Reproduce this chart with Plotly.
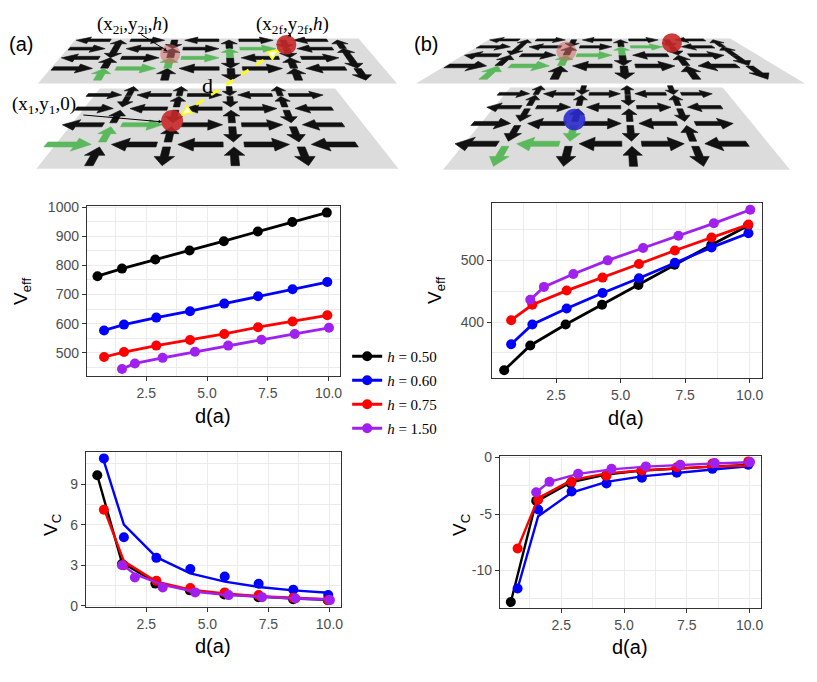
import plotly.graph_objects as go

W, H = 817, 682
OFF = 8                      # the page body margin shifts the figure by 8 px
FW, FH = W - 2 * OFF, H - 2 * OFF
TOP_H = 175                  # bottom of the sketch strip, in page pixels

# ---- data ----
LABELS = ["<i>h</i> = 0.50", "<i>h</i> = 0.60", "<i>h</i> = 0.75", "<i>h</i> = 1.50"]
COLORS = ["#000000", "#0000ff", "#ff0000", "#a020f0"]

d_050 = [0.49, 1.50, 2.87, 4.28, 5.69, 7.09, 8.51, 9.93]
d_060 = [0.76, 1.58, 2.91, 4.30, 5.71, 7.10, 8.52, 9.95]
d_075 = [0.76, 1.58, 2.91, 4.30, 5.71, 7.10, 8.52, 9.95]
d_150 = [1.50, 2.03, 3.17, 4.50, 5.87, 7.24, 8.61, 10.02]

veff_a_050 = [763, 789, 820, 851, 883, 916, 949, 981]
veff_a_060 = [577, 597, 621, 643, 669, 694, 718, 743]
veff_a_075 = [486, 503, 525, 544, 565, 588, 608, 629]
veff_a_150 = [445, 464, 483, 504, 525, 545, 565, 586]

veff_b_050 = [322, 362, 396, 428, 460, 493, 525, 556]
veff_b_060 = [364, 396, 422, 447, 471, 496, 521, 544]
veff_b_075 = [403, 428, 451, 472, 494, 516, 537, 558]
veff_b_150 = [436, 457, 478, 500, 520, 540, 560, 582]

# V_C: points and the curve drawn through them
vc_a_050 = [9.65, 3.10, 1.65, 1.15, 0.85, 0.65, 0.50, 0.42]
vc_a_060 = [10.9, 5.07, 3.55, 2.73, 2.17, 1.64, 1.20, 0.80]
vc_a_075 = [7.10, 3.00, 1.86, 1.33, 1.00, 0.80, 0.60, 0.43]
vc_a_150 = [3.00, 2.10, 1.37, 1.00, 0.80, 0.65, 0.55, 0.43]
vc_a_fit_050 = [9.65, 3.20, 1.75, 1.15, 0.85, 0.68, 0.55, 0.45]
vc_a_fit_060 = [10.7, 6.00, 3.60, 2.40, 1.80, 1.40, 1.15, 0.97]
vc_a_fit_075 = [7.20, 3.30, 1.80, 1.20, 0.92, 0.72, 0.60, 0.50]
vc_a_fit_150 = [3.05, 2.35, 1.55, 1.05, 0.80, 0.65, 0.55, 0.48]

vc_b_050 = [-12.8, -3.82, -2.30, -1.60, -1.20, -0.95, -0.75, -0.60]
vc_b_060 = [-11.6, -4.60, -3.00, -2.30, -1.78, -1.35, -1.00, -0.63]
vc_b_075 = [-8.05, -3.74, -2.15, -1.60, -1.15, -0.86, -0.52, -0.34]
vc_b_150 = [-3.07, -2.15, -1.44, -1.00, -0.78, -0.63, -0.49, -0.40]
vc_b_fit_050 = [-12.8, -3.90, -2.20, -1.50, -1.15, -0.95, -0.80, -0.65]
vc_b_fit_060 = [-11.6, -5.20, -3.10, -2.15, -1.67, -1.35, -1.06, -0.78]
vc_b_fit_075 = [-8.05, -3.60, -2.00, -1.40, -1.15, -0.95, -0.80, -0.70]
vc_b_fit_150 = [-3.07, -2.15, -1.44, -1.05, -0.80, -0.65, -0.52, -0.42]

# ---- spin-ice sketch: arrow directions on each lattice ----
TOP_H_DIRS = ["LRLRL", "RLRRL", "LRRLR", "RRLRL"]
TOP_V_DIRS = ["UDUDU", "DUUDU", "UUDUD", "UUDUD"]
TOP_GREEN = [("v", 3, 0), ("h", 3, 1), ("v", 2, 1), ("h", 2, 2), ("v", 1, 2), ("h", 1, 3)]
BOT_A_H_DIRS = ["RLRLR", "RLLRL", "LRRRL", "RLLRL"]
BOT_A_V_DIRS = ["UUDU", "DUDU", "UDUD", "UUDD", "UDUD"]
BOT_A_GREEN = [("h", 3, 0), ("v", 3, 0), ("h", 2, 1)]
BOT_B_H_DIRS = ["RLRLR", "LRLRL", "RLRLR", "LLLRL"]
BOT_B_V_DIRS = ["UDUD", "UUDU", "DUUD", "DDDU", "DDUD"]
BOT_B_GREEN = [("v", 3, 1), ("h", 3, 1), ("v", 4, 0)]

TOP_GRID = dict(vert_u=[0.16, 0.35, 0.54, 0.73, 0.92], horiz_u=[0.065, 0.255, 0.445, 0.635, 0.825],
                h_v=[0.05, 0.27, 0.49, 0.716], v_v=[0.155, 0.375, 0.6, 0.83],
                hL=0.12, hhl=0.045, hts=0.035, hhh=0.09, vL=0.22, vhl=0.10, vhh=0.028)
BOT_GRID = dict(vert_u=[0.14, 0.345, 0.55, 0.755], horiz_u=[0.04, 0.2425, 0.4475, 0.6525, 0.86],
                h_v=[0.12, 0.34, 0.56, 0.78], v_v=[0.05, 0.23, 0.45, 0.67, 0.89],
                hL=0.14, hhl=0.05, hts=0.025, hhh=0.065, vL=0.17, vhl=0.08, vhh=0.03)

PLANE_A_TOP = dict(cx=218, yb=32, yf=78, wb=283, wf=360)
PLANE_A_BOT = dict(cx=218, yb=83, yf=165, wb=236, wf=363)
PLANE_B_TOP = dict(cx=612, yb=32, yf=78, wb=240, wf=390)
PLANE_B_BOT = dict(cx=618, yb=82, yf=166, wb=213, wf=348)


def proj(pl, u, v):
    """perspective map of plane coords (u across, v back->front) to page pixels"""
    r = pl["wb"] / pl["wf"]
    s = 1.0 / (1.0 + (r - 1.0) * v)
    t = (s - 1.0) / (1.0 / r - 1.0)
    w = pl["wb"] + (pl["wf"] - pl["wb"]) * t
    return pl["cx"] + (u - 0.5) * w, pl["yb"] + (pl["yf"] - pl["yb"]) * t


def arrow_outline(L, hl, ts, hh):
    return [(-L / 2, -ts), (L / 2 - hl, -ts), (L / 2 - hl, -hh), (L / 2, 0),
            (L / 2 - hl, hh), (L / 2 - hl, ts), (-L / 2, ts), (-L / 2, -ts)]


def lattice_traces(pl, grid, h_dirs, v_dirs, green):
    xs = {"k": [], "g": []}
    ys = {"k": [], "g": []}
    for r, row in enumerate(h_dirs):
        for k, c in enumerate(row):
            sgn = 1 if c == "R" else -1
            col = "g" if ("h", r, k) in green else "k"
            for a, b in arrow_outline(grid["hL"], grid["hhl"], grid["hts"], grid["hhh"]):
                px, py = proj(pl, grid["horiz_u"][k] + sgn * a, grid["h_v"][r] + b)
                xs[col].append(px)
                ys[col].append(py)
            xs[col].append(None)
            ys[col].append(None)
    for m, row in enumerate(v_dirs):
        for c_i, c in enumerate(row):
            sgn = 1 if c == "U" else -1
            col = "g" if ("v", m, c_i) in green else "k"
            for a, b in arrow_outline(grid["vL"], grid["vhl"], grid["vhh"] * 0.4, grid["vhh"]):
                px, py = proj(pl, grid["vert_u"][c_i] + b, grid["v_v"][m] - sgn * a)
                xs[col].append(px)
                ys[col].append(py)
            xs[col].append(None)
            ys[col].append(None)
    corners = [proj(pl, 0, 0), proj(pl, 1, 0), proj(pl, 1, 1), proj(pl, 0, 1), proj(pl, 0, 0)]
    out = [go.Scatter(x=[p[0] for p in corners], y=[p[1] for p in corners], fill="toself",
                      fillcolor="#dcdcdc", line=dict(width=0), mode="lines")]
    for col, colour in (("k", "#111111"), ("g", "#5cb85c")):
        out.append(go.Scatter(x=xs[col], y=ys[col], fill="toself", fillcolor=colour,
                              line=dict(width=0.6, color=colour), mode="lines"))
    for tr in out:
        tr.update(xaxis="x5", yaxis="y5", showlegend=False, hoverinfo="skip")
    return out


def vertex(pl, grid, col, row):
    return proj(pl, grid["vert_u"][col], grid["h_v"][row])


fig = go.Figure()

for pl, grid, hd, vd, gr in ((PLANE_A_TOP, TOP_GRID, TOP_H_DIRS, TOP_V_DIRS, TOP_GREEN),
                             (PLANE_A_BOT, BOT_GRID, BOT_A_H_DIRS, BOT_A_V_DIRS, BOT_A_GREEN),
                             (PLANE_B_TOP, TOP_GRID, TOP_H_DIRS, TOP_V_DIRS, TOP_GREEN),
                             (PLANE_B_BOT, BOT_GRID, BOT_B_H_DIRS, BOT_B_V_DIRS, BOT_B_GREEN)):
    for tr in lattice_traces(pl, grid, hd, vd, gr):
        fig.add_trace(tr)

# particle positions (sitting on lattice vertices)
a_x2i = vertex(PLANE_A_TOP, TOP_GRID, 1, 2)
a_x2f = vertex(PLANE_A_TOP, TOP_GRID, 3, 1)
a_x1 = vertex(PLANE_A_BOT, BOT_GRID, 1, 2)
b_x2i = vertex(PLANE_B_TOP, TOP_GRID, 1, 2)
b_x2f = vertex(PLANE_B_TOP, TOP_GRID, 3, 1)
b_x1 = vertex(PLANE_B_BOT, BOT_GRID, 1, 2)

shapes = []


def sphere(c, rad, fill, opacity):
    cx, cy = c[0], c[1] - 4
    shapes.append(dict(type="circle", xref="x5", yref="y5", x0=cx - rad, x1=cx + rad,
                       y0=cy - rad, y1=cy + rad, fillcolor=fill, opacity=opacity,
                       line=dict(width=0)))
    return cx, cy


sphere(a_x2i, 10, "#d46a6a", 0.55)
s_a2f = sphere(a_x2f, 10, "#c62828", 0.9)
s_a1 = sphere(a_x1, 11, "#c62828", 0.9)
sphere(b_x2i, 10, "#d46a6a", 0.55)
sphere(b_x2f, 10, "#c62828", 0.9)
sphere(b_x1, 11, "#2a2acc", 0.9)

# yellow dashed d arrow between the two particles
dx, dy = s_a2f[0] - s_a1[0], s_a2f[1] - s_a1[1]
dl = (dx * dx + dy * dy) ** 0.5
ux, uy = dx / dl, dy / dl
pA = (s_a1[0] + ux * 11, s_a1[1] + uy * 11)
pB = (s_a2f[0] - ux * 10, s_a2f[1] - uy * 10)
fig.add_trace(go.Scatter(x=[pA[0], pB[0]], y=[pA[1], pB[1]], mode="lines",
                         line=dict(color="#ffff00", width=2.5, dash="dash"),
                         xaxis="x5", yaxis="y5", showlegend=False, hoverinfo="skip"))
hx, hy = [], []
for tip, sg in ((pA, -1), (pB, 1)):
    bx, by = tip[0] - sg * ux * 10, tip[1] - sg * uy * 10
    hx += [tip[0], bx - uy * 4.5, bx + uy * 4.5, tip[0], None]
    hy += [tip[1], by + ux * 4.5, by - ux * 4.5, tip[1], None]
fig.add_trace(go.Scatter(x=hx, y=hy, mode="lines", fill="toself", fillcolor="#ffffff",
                         line=dict(color="#ffff00", width=1.5), xaxis="x5", yaxis="y5",
                         showlegend=False, hoverinfo="skip"))

# ---- data panels ----
xs_all = [d_050, d_060, d_075, d_150]
veff_a = [veff_a_050, veff_a_060, veff_a_075, veff_a_150]
veff_b = [veff_b_050, veff_b_060, veff_b_075, veff_b_150]
vc_a = [vc_a_050, vc_a_060, vc_a_075, vc_a_150]
vc_b = [vc_b_050, vc_b_060, vc_b_075, vc_b_150]
vc_a_fit = [vc_a_fit_050, vc_a_fit_060, vc_a_fit_075, vc_a_fit_150]
vc_b_fit = [vc_b_fit_050, vc_b_fit_060, vc_b_fit_075, vc_b_fit_150]

for i in range(4):
    fig.add_trace(go.Scatter(x=xs_all[i], y=veff_a[i], mode="lines+markers", name=LABELS[i],
                             line=dict(color=COLORS[i], width=2.8), marker=dict(size=10, color=COLORS[i]),
                             xaxis="x", yaxis="y", legendgroup=str(i)))
for i in range(4):
    fig.add_trace(go.Scatter(x=xs_all[i], y=veff_b[i], mode="lines+markers", showlegend=False,
                             line=dict(color=COLORS[i], width=2.8), marker=dict(size=10, color=COLORS[i]),
                             xaxis="x2", yaxis="y2"))
for i in range(4):
    for ax, pts, fit in (("3", vc_a, vc_a_fit), ("4", vc_b, vc_b_fit)):
        fig.add_trace(go.Scatter(x=xs_all[i], y=pts[i], mode="markers", showlegend=False,
                                 marker=dict(size=10, color=COLORS[i]), xaxis="x" + ax, yaxis="y" + ax))
        fig.add_trace(go.Scatter(x=xs_all[i], y=fit[i], mode="lines", showlegend=False,
                                 line=dict(color=COLORS[i], width=2.4), xaxis="x" + ax, yaxis="y" + ax))


def PX(x):
    return (x - OFF) / FW


def PY(y):
    return 1 - (y - OFF) / FH


def dom_x(a, b):
    return [PX(a), PX(b)]


def dom_y(top, bottom):
    return [PY(bottom), PY(top)]


TICKFONT = dict(family="Liberation Sans, Arial", size=14, color="#4d4d4d")


def axis(domain, rng, dtick, minor, anchor, **kw):
    d = dict(domain=domain, range=rng, dtick=dtick, tick0=0, anchor=anchor,
             showline=True, mirror=True, linecolor="#333333", linewidth=1,
             ticks="outside", ticklen=4, tickwidth=1, tickcolor="#333333",
             showgrid=True, gridcolor="#ebebeb", gridwidth=1.2, zeroline=False,
             minor=dict(dtick=minor, tick0=0, showgrid=True, gridcolor="#ebebeb", gridwidth=0.6),
             tickfont=TICKFONT, fixedrange=True)
    d.update(kw)
    return d


fig.update_layout(
    width=FW, height=FH, margin=dict(l=0, r=0, t=0, b=0),
    paper_bgcolor="white", plot_bgcolor="white",
    xaxis=axis(dom_x(87, 341), [0.05, 10.48], 2.5, 1.25, "y", tickformat=".1f"),
    yaxis=axis(dom_y(203, 377), [420, 1004], 100, 50, "x"),
    xaxis2=axis(dom_x(493, 764), [0.01, 10.48], 2.5, 1.25, "y2", tickformat=".1f"),
    yaxis2=axis(dom_y(200, 379), [309, 593], 100, 50, "x2"),
    xaxis3=axis(dom_x(86, 342), [0.02, 10.48], 2.5, 1.25, "y3", tickformat=".1f"),
    yaxis3=axis(dom_y(454, 613), [-0.1, 11.4], 3, 1.5, "x3"),
    xaxis4=axis(dom_x(501, 763), [0.05, 10.46], 2.5, 1.25, "y4", tickformat=".1f"),
    yaxis4=axis(dom_y(458, 614), [-13.35, 0.18], 5, 2.5, "x4", tickmode="array",
                tickvals=[-10, -5, 0], ticktext=["-10", "-5", "0"]),
    xaxis5=dict(domain=[0, 1], range=[OFF, OFF + FW], visible=False, fixedrange=True, anchor="y5"),
    yaxis5=dict(domain=dom_y(OFF, TOP_H), range=[TOP_H, OFF], visible=False, fixedrange=True, anchor="x5"),
    legend=dict(x=PX(348), y=PY(340), xanchor="left", yanchor="top", itemwidth=30,
                font=dict(family="Liberation Serif, Times New Roman", size=15, color="black"),
                bgcolor="rgba(0,0,0,0)", tracegroupgap=1.5),
    showlegend=True,
    shapes=shapes,
)

ann = []


def label(x, y, text, size, angle=0, family="Liberation Sans, Arial", color="black"):
    ann.append(dict(x=PX(x), y=PY(y), xref="paper", yref="paper", text=text, showarrow=False,
                    textangle=angle, xanchor="center", yanchor="middle",
                    font=dict(family=family, size=size, color=color)))


label(22, 290, "V<sub>eff</sub>", 19, -90)
label(437, 289, "V<sub>eff</sub>", 19, -90)
label(52, 528, "V<sub>C</sub>", 19, -90)
label(462, 528, "V<sub>C</sub>", 19, -90)
for cx, cy in ((214, 418), (628, 420), (214, 653), (632, 654)):
    label(cx, cy, "d(a)", 20)
label(21, 38, "(a)", 20)
label(427, 38, "(b)", 20)

SERIF = "Liberation Serif, Times New Roman"
label(133, 18, "(x<sub>2i</sub>,y<sub>2i</sub>,<i>h</i>)", 19, family=SERIF)
label(293, 18, "(x<sub>2f</sub>,y<sub>2f</sub>,<i>h</i>)", 19, family=SERIF)
label(44, 100, "(x<sub>1</sub>,y<sub>1</sub>,0)", 19, family=SERIF)
label(208, 80, "d", 22, family=SERIF)


def pointer(tail, head):
    ann.append(dict(x=head[0], y=head[1], ax=tail[0], ay=tail[1], xref="x5", yref="y5",
                    axref="x5", ayref="y5", text="", showarrow=True, arrowhead=2,
                    arrowsize=0.7, arrowwidth=1, arrowcolor="black"))


pointer((140, 27), (a_x2i[0] - 3, a_x2i[1] - 7))
pointer((293, 28), (s_a2f[0] + 1, s_a2f[1] - 9))
pointer((82, 110), (s_a1[0] - 10, s_a1[1] + 1))

fig.update_layout(annotations=ann)

fig.write_html("out.html")
